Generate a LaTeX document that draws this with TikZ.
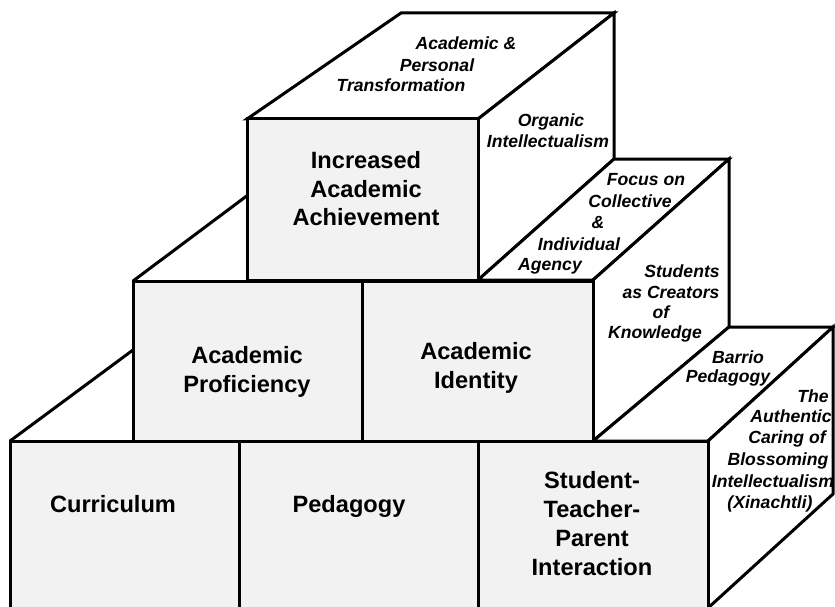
\documentclass[tikz,border=0pt]{standalone}
\usepackage{fontspec}
\setmainfont{Liberation Sans}
\definecolor{frontgray}{RGB}{242,242,242}
\tikzset{
  face/.style={draw=black, line width=3pt, fill=white},
  frontface/.style={face, fill=frontgray},
  edge/.style={draw=black, line width=3pt},
  big/.style={font=\fontsize{23.6}{28}\selectfont\bfseries, anchor=base, inner sep=0pt},
  small/.style={font=\fontsize{17.6}{20}\selectfont\bfseries\itshape, anchor=base, inner sep=0pt},
}
\begin{document}
\begin{tikzpicture}[x=1pt,y=-1pt]
\useasboundingbox (0,0) rectangle (835,607);
\clip (0,0) rectangle (835,607);
% ---- top box
\path[face] (247,119) -- (401,13) -- (614,13) -- (478,119) -- cycle;
\path[face] (478,119) -- (614,13) -- (614,159) -- (478,280) -- cycle;
\path[frontface] (247,119) rectangle (478,280);
% ---- middle row
\path[face] (478,280) -- (614,159) -- (729,159) -- (593,280) -- cycle;
\path[face] (593,280) -- (729,159) -- (729,327) -- (593,441) -- cycle;
\draw[edge] (133,281) -- (248,195);
\path[frontface] (133,281) rectangle (362,441);
\path[frontface] (362,281) rectangle (593,441);
% ---- bottom row
\path[face] (593,441) -- (729,327) -- (833,327) -- (708,441) -- cycle;
\path[face] (708,441) -- (833,327) -- (833,494) -- (708,608) -- cycle;
\draw[edge] (10,441) -- (133,350);
\path[frontface] (10,441) rectangle (239,625);
\path[frontface] (239,441) rectangle (478,625);
\path[frontface] (478,441) rectangle (708,625);
% ---- main labels
\node[big] (iaa1) at (366,168) {Increased};
\node[big] (iaa2) at (366,197) {Academic};
\node[big] (iaa3) at (366,225) {Achievement};
\node[big] (ap1) at (247,363) {Academic};
\node[big] (ap2) at (247,392) {Proficiency};
\node[big] (ai1) at (476,359) {Academic};
\node[big] (ai2) at (476,388) {Identity};
\node[big] (cur) at (113,512) {Curriculum};
\node[big] (ped) at (349,512) {Pedagogy};
\node[big] (stp1) at (592,488) {Student-};
\node[big] (stp2) at (592,517) {Teacher-};
\node[big] (stp3) at (592,546) {Parent};
\node[big] (stp4) at (592,575) {Interaction};
% ---- side labels
\node[small] (apt1) at (466,50) {Academic \&};
\node[small] (apt2) at (437,72) {Personal};
\node[small] (apt3) at (401,92) {Transformation};
\node[small] (oi1) at (551,127) {Organic};
\node[small] (oi2) at (548,147) {Intellectualism};
\node[small] (fc1) at (646,185) {Focus on};
\node[small] (fc2) at (630,207) {Collective};
\node[small] (fc3) at (598,228) {\&};
\node[small] (fc4) at (579,250) {Individual};
\node[small] (fc5) at (550,270) {Agency};
\node[small] (sc1) at (682,277) {Students};
\node[small] (sc2) at (671,298) {as Creators};
\node[small] (sc3) at (661,318) {of};
\node[small] (sc4) at (655,338) {Knowledge};
\node[small] (bp1) at (738,363) {Barrio};
\node[small] (bp2) at (728,382) {Pedagogy};
\node[small] (ac1) at (813,402) {The};
\node[small] (ac2) at (791,422) {Authentic};
\node[small] (ac3) at (787,443) {Caring of};
\node[small] (ac4) at (778,465) {Blossoming};
\node[small] (ac5) at (773,487) {Intellectualism};
\node[small] (ac6) at (770,508) {(Xinachtli)};
\end{tikzpicture}
\end{document}
